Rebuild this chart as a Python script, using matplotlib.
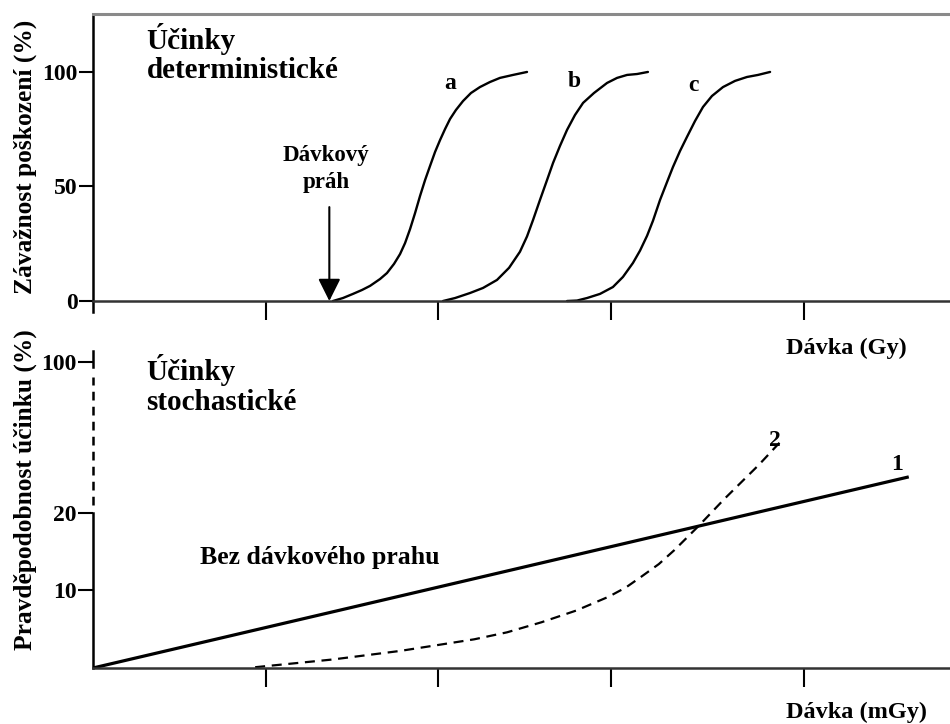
import numpy as np
import matplotlib
matplotlib.use("Agg")
import matplotlib.pyplot as plt

plt.rcParams["font.family"] = ["Liberation Serif", "DejaVu Serif"]
plt.rcParams["font.weight"] = "bold"

# ----------------------------
# Data
# ----------------------------

# deterministic effects: severity (%) vs dose (Gy), three S-shaped curves
curve_a_x = [1.391, 1.449, 1.507, 1.559, 1.606, 1.664, 1.704, 1.745, 1.780, 1.809, 1.838,
             1.867, 1.896, 1.925, 1.954, 1.983, 2.012, 2.041, 2.070, 2.104, 2.145, 2.191,
             2.243, 2.301, 2.359, 2.435, 2.516]
curve_a_y = [0, 1.3, 3.1, 4.8, 6.6, 9.6, 12.2, 16.2, 20.5, 25.3, 31.4,
             38.4, 45.9, 52.8, 59.0, 65.1, 70.3, 75.1, 79.5, 83.4, 87.3, 90.8,
             93.4, 95.6, 97.4, 98.7, 100]

curve_b_x = [2.029, 2.099, 2.186, 2.261, 2.342, 2.412, 2.475, 2.516, 2.551, 2.591, 2.632,
             2.667, 2.707, 2.748, 2.794, 2.841, 2.904, 2.980, 3.038, 3.096, 3.154, 3.217]
curve_b_y = [0, 1.3, 3.5, 5.7, 9.2, 14.5, 21.5, 28.2, 35.4, 44.1, 52.8,
             60.3, 67.7, 74.7, 81.2, 86.5, 90.8, 95.2, 97.4, 98.7, 99.1, 100]

curve_c_x = [2.748, 2.806, 2.864, 2.939, 3.014, 3.072, 3.130, 3.171, 3.212, 3.246, 3.287,
             3.328, 3.362, 3.403, 3.443, 3.490, 3.536, 3.588, 3.652, 3.722, 3.791, 3.855,
             3.925]
curve_c_y = [0, 0.2, 1.3, 3.1, 6.1, 10.5, 16.6, 22.0, 28.5, 35.0, 44.1,
             52.0, 58.5, 65.5, 71.6, 78.6, 84.7, 89.5, 93.4, 96.1, 97.8, 98.7,
             100]

threshold_dose = 1.37

# stochastic effects: probability (%) vs dose (mGy)
line1_x = [0, 4.72]
line1_y = [0, 24.6]

line2_x = [0.94, 1.39, 1.78, 2.21, 2.40, 2.60, 2.80, 2.99, 3.09, 3.18, 3.28, 3.37, 3.51,
           3.66, 3.76, 3.86, 3.99]
line2_y = [0.1, 1.1, 2.2, 3.7, 4.6, 5.9, 7.4, 9.2, 10.4, 11.8, 13.4, 15.2, 18.3,
           21.8, 24.0, 26.2, 29.3]

x_ticks = [1, 2, 3, 4.12]
top_yticks = [0, 50, 100]
low_yticks = [10, 20, 39.5]
low_yticklabels = ["10", "20", "100"]

# ----------------------------
# Figure
# ----------------------------

W, H = 950, 724
fig = plt.figure(figsize=(9.5, 7.24), dpi=100)

def px_axes(left, top, right, bottom):
    return fig.add_axes([left / W, 1 - bottom / H, (right - left) / W, (bottom - top) / H])

tick_font = dict(fontsize=17, fontweight="bold")

# ---- top panel ----
ax1 = px_axes(93, 14, 950, 312)
ax1.set_xlim(0, 4.968)
ax1.set_ylim(-4.8, 125.3)
for xs, ys in [(curve_a_x, curve_a_y), (curve_b_x, curve_b_y), (curve_c_x, curve_c_y)]:
    ax1.plot(xs, ys, color="black", lw=1.7, solid_capstyle="round", solid_joinstyle="round")

ax1.spines["right"].set_visible(False)
ax1.spines["top"].set_color("#8a8a8a")
ax1.spines["top"].set_linewidth(2.2)
ax1.spines["left"].set_linewidth(1.8)
ax1.spines["bottom"].set_position(("data", 0))
ax1.spines["bottom"].set_linewidth(1.8)
ax1.spines["bottom"].set_color("#333333")

ax1.set_xticks(x_ticks)
ax1.set_xticklabels([])
ax1.tick_params(axis="x", direction="out", length=14, width=1.5)
ax1.set_yticks(top_yticks)
ax1.set_yticklabels([str(v) for v in top_yticks], **tick_font)
ax1.tick_params(axis="y", direction="out", length=10, width=1.5, pad=1)

ax1.text(0.31, 108, "Účinky\ndeterministické", fontsize=21, fontweight="bold",
         va="center", ha="left", linespacing=1.1)
ax1.text(1.35, 57.5, "Dávkový\npráh", fontsize=16.5, fontweight="bold",
         ha="center", va="center", linespacing=1.4)
ax1.annotate("", xy=(threshold_dose, 0), xytext=(threshold_dose, 41),
             arrowprops=dict(arrowstyle="-|>", color="black", lw=1.5,
                             mutation_scale=34, shrinkA=0, shrinkB=0))
ax1.text(2.07, 95, "a", fontsize=17, fontweight="bold", ha="center", va="center")
ax1.text(2.79, 96, "b", fontsize=17, fontweight="bold", ha="center", va="center")
ax1.text(3.48, 94, "c", fontsize=17, fontweight="bold", ha="center", va="center")

# ---- bottom panel ----
ax2 = px_axes(93, 340, 950, 668)
ax2.set_xlim(0, 4.968)
ax2.set_ylim(0, 42.3)
ax2.plot(line1_x, line1_y, color="black", lw=2.3)
ax2.plot(line2_x, line2_y, color="black", lw=1.6, linestyle=(0, (4.5, 3)))

ax2.spines["right"].set_visible(False)
ax2.spines["top"].set_visible(False)
ax2.spines["left"].set_bounds(0, 20)
ax2.spines["left"].set_linewidth(1.8)
ax2.spines["bottom"].set_linewidth(1.8)
ax2.spines["bottom"].set_color("#333333")
# broken part of the y axis between 20 and 100
ax2.plot([0, 0], [21.0, 37.5], color="black", lw=1.8, linestyle=(0, (3.5, 2.5)), clip_on=False)
ax2.plot([0, 0], [38.8, 40.9], color="black", lw=1.8, clip_on=False)

ax2.set_xticks(x_ticks)
ax2.set_xticklabels([])
ax2.tick_params(axis="x", direction="out", length=14, width=1.5)
ax2.set_yticks(low_yticks)
ax2.set_yticklabels(low_yticklabels, **tick_font)
ax2.tick_params(axis="y", direction="out", length=11, width=1.5, pad=1)

ax2.text(0.31, 36.5, "Účinky\nstochastické", fontsize=21, fontweight="bold",
         va="center", ha="left", linespacing=1.1)
ax2.text(0.62, 14.2, "Bez dávkového prahu", fontsize=18.5, fontweight="bold",
         ha="left", va="center")
ax2.text(3.95, 29.3, "2", fontsize=17, fontweight="bold", ha="center", va="center")
ax2.text(4.66, 26.3, "1", fontsize=17, fontweight="bold", ha="center", va="center")

# ---- labels outside the axes ----
fig.text(846 / W, 1 - 348 / H, "Dávka (Gy)", fontsize=17.5, fontweight="bold",
         ha="center", va="center")
fig.text(856 / W, 1 - 712 / H, "Dávka (mGy)", fontsize=17.5, fontweight="bold",
         ha="center", va="center")
fig.text(25 / W, 1 - 157 / H, "Závažnost poškození (%)", fontsize=18.3, fontweight="bold",
         rotation=90, ha="center", va="center")
fig.text(25 / W, 1 - 490 / H, "Pravděpodobnost účinku (%)", fontsize=18.3, fontweight="bold",
         rotation=90, ha="center", va="center")

fig.savefig("out.png", dpi=100)
